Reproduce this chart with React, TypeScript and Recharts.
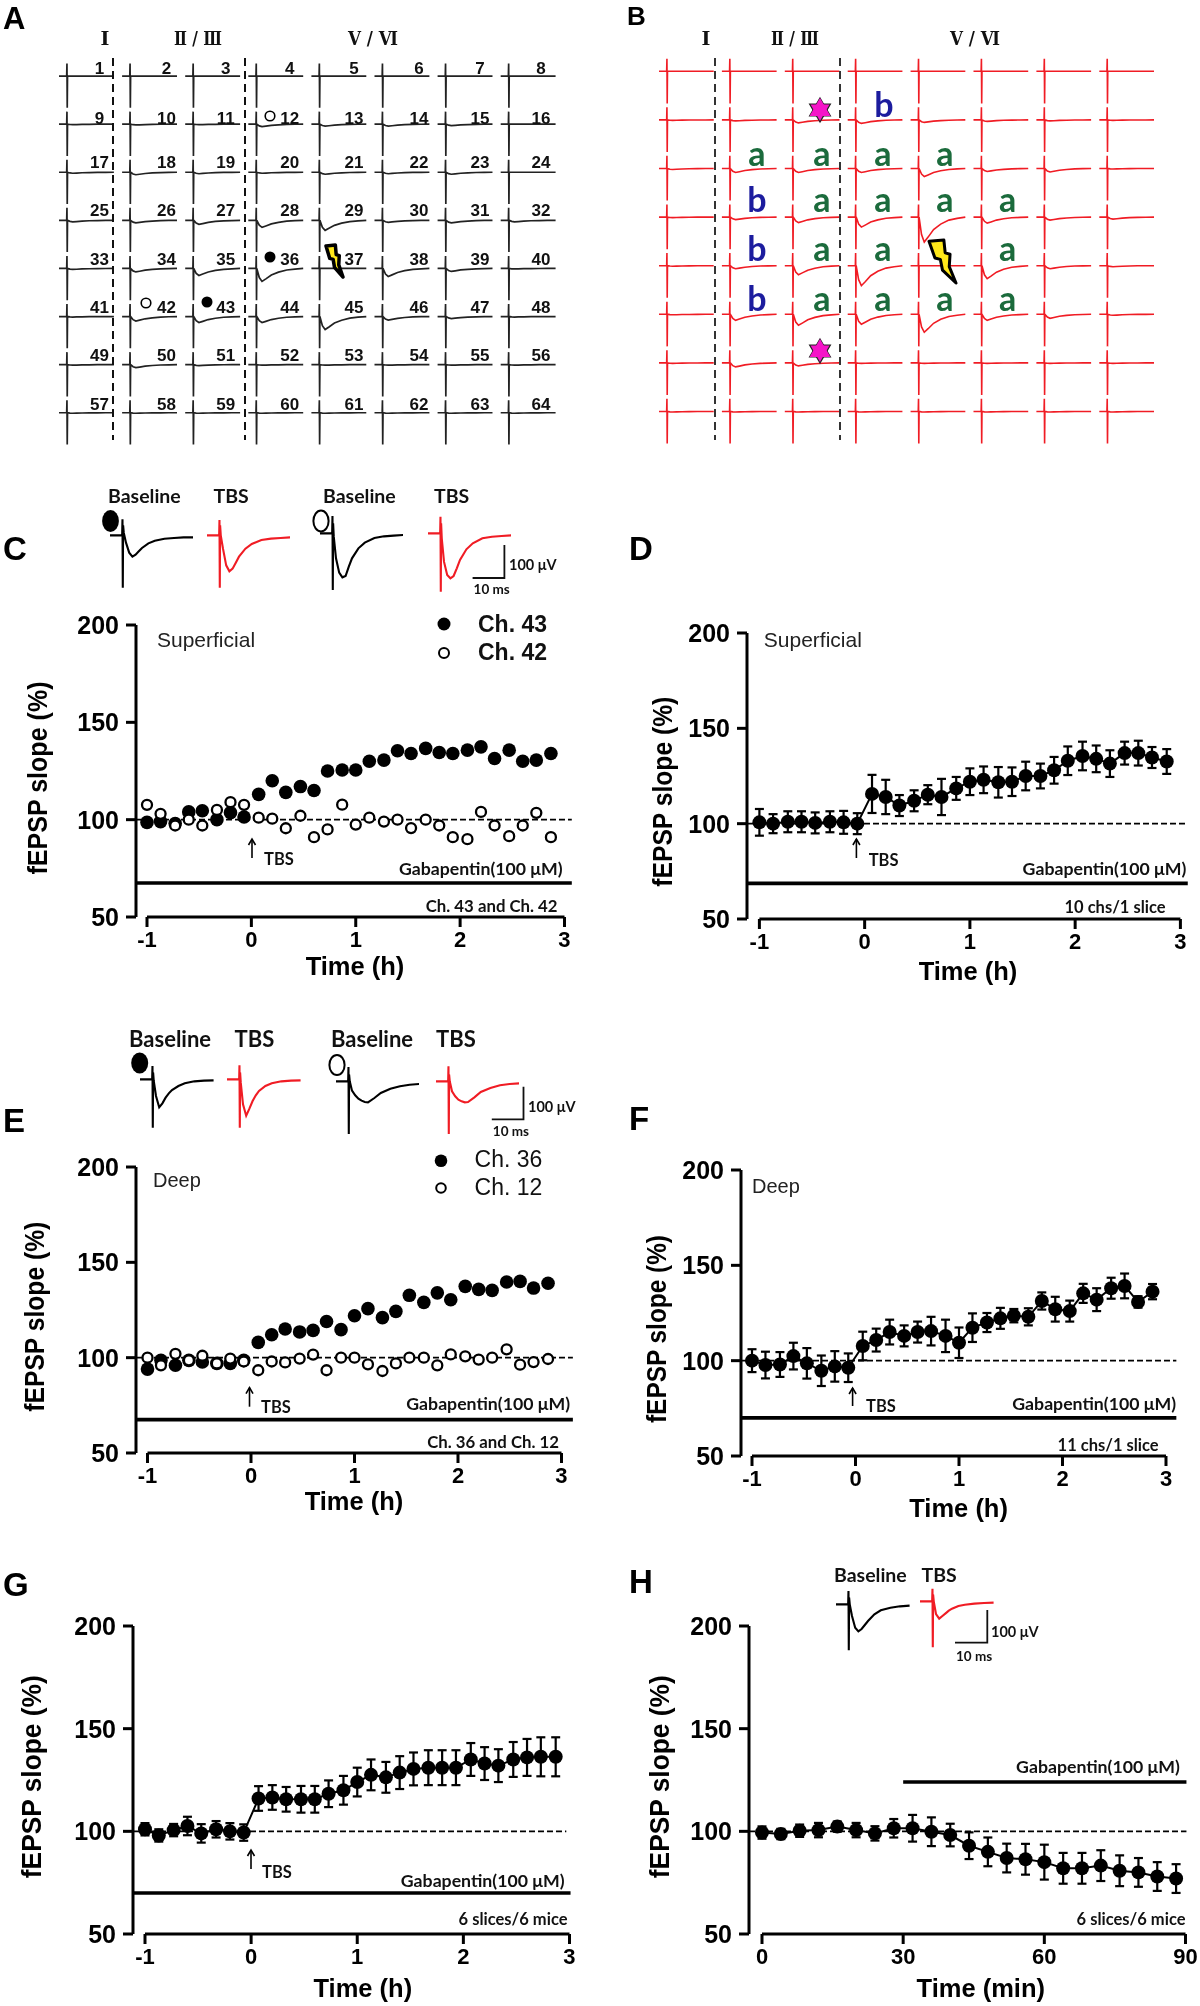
import { ComposedChart, LineChart, Line, XAxis, YAxis, ErrorBar, ReferenceLine } from 'recharts'

// Sampling times of the field recordings
const timeH = [-1, -0.87, -0.73, -0.6, -0.47, -0.33, -0.2, -0.07, 0.07, 0.2, 0.33, 0.47, 0.6, 0.73, 0.87, 1, 1.13, 1.27, 1.4, 1.53, 1.67, 1.8, 1.93, 2.07, 2.2, 2.33, 2.47, 2.6, 2.73, 2.87]
const timeMin = [0, 4, 8, 12, 16, 20, 24, 28, 32, 36, 40, 44, 48, 52, 56, 60, 64, 68, 72, 76, 80, 84, 88]

const ch43 = [98.6, 99, 98, 104, 104.6, 100, 103.6, 101.4, 113, 120, 114, 117, 115, 125, 125.5, 125.5, 130, 130.6, 135.4, 134, 136.6, 134.5, 134, 135.7, 137.4, 131.4, 135.7, 130, 130.6, 134]
const ch42 = [107.6, 103, 97, 100, 97, 105, 109, 107.6, 101, 100.5, 95.6, 102, 91, 95, 107.7, 97.5, 101, 99, 100, 95.7, 100, 97, 91, 90, 104, 97, 91.5, 97, 103.5, 91]
const ch36 = [94, 98.6, 96, 98.6, 97.7, 97, 97, 98.6, 108, 112, 115, 113.5, 114.3, 119, 114.7, 122, 125.7, 121, 124.3, 132.7, 129, 134, 130.4, 137.4, 135.8, 135.3, 139.7, 140, 136.5, 139]
const ch12 = [100, 96, 102, 98.6, 101, 97, 99.5, 98, 93.4, 98, 97.5, 99.5, 101.6, 93.4, 100, 100, 96.5, 93, 97, 100, 100, 96, 101.7, 100.7, 99, 100, 104.4, 96.3, 97.7, 99.3]

const dMean = [100.7, 100, 101, 101, 100.4, 101, 100.7, 100, 115.6, 114, 109.5, 112, 115.2, 114, 118.5, 122, 123, 121.7, 122, 125, 125, 128, 133, 135.5, 134, 131.5, 137, 137, 134.7, 132.6]
const dErr = [7, 5, 5.5, 5.5, 5.5, 5.5, 6, 5.5, 10, 9, 5.5, 5.5, 5, 9.5, 6, 7, 7, 8, 7.5, 7.5, 6.5, 7, 7.5, 7.5, 7, 7, 6, 6.5, 5.5, 6.5]
const fMean = [100, 97.7, 98, 102.4, 98.6, 94.7, 97, 96.3, 107.7, 110.8, 115, 113, 115, 115.5, 113, 109.4, 117.3, 120, 122.2, 123.6, 123, 131.3, 127, 126, 135.3, 132, 138, 139.2, 130.8, 136.2]
const fErr = [6, 7, 6.5, 7, 8, 8, 8, 7.5, 7.5, 6, 6.5, 5.5, 5.5, 7.5, 8.5, 8, 7.5, 5, 5.5, 3.5, 4.5, 4.5, 6.5, 5.5, 5, 6, 5.5, 6.5, 3, 4]
const gMean = [101, 98, 100.6, 102.6, 99, 101, 100, 99.4, 116, 116.5, 115.6, 115.6, 115.6, 118.3, 120, 124, 127.5, 126.3, 128.6, 130.4, 131, 131, 131, 135, 133, 132, 135, 136, 136.3, 136.3]
const gErr = [3, 3, 3, 4.5, 4.5, 4, 4, 4, 6, 6, 6, 6.5, 6.5, 6.5, 7, 7, 7.5, 7.5, 8, 8, 8.5, 8.5, 8.5, 8, 8, 8, 8.5, 9, 9.5, 9.5]
const hMean = [99.4, 98.7, 100.3, 100.6, 102.3, 100.6, 99, 101.5, 101.5, 99.8, 98.2, 93, 90, 87, 86.4, 85, 82, 82, 83.3, 80.8, 80, 78, 77]
const hErr = [3, 2.5, 3, 3.5, 2.5, 3.5, 3.5, 4.5, 6.5, 7, 5.5, 6.5, 7, 7, 7.5, 8.5, 7.5, 7.5, 7.5, 7.5, 7, 7, 7]

// Example waveforms, ms and uV
const waveMs = [0, 3.8, 3.9, 4, 4.1, 4.3, 5, 6, 7, 8, 9, 10, 12, 14, 17, 20, 23, 26]
const waveC1 = [0, 0, 48, -157, 30, 8, -22, -52, -64, -58, -48, -38, -24, -16, -10, -8, -6, -6]
const waveC2 = [0, 0, 46, -157, 30, 0, -40, -90, -108, -100, -82, -64, -40, -26, -14, -10, -8, -6]
const waveC3 = [0, 0, 52, -170, 30, -10, -75, -118, -132, -128, -100, -75, -45, -28, -14, -9, -7, -5]
const waveC4 = [0, 0, 50, -175, 30, -15, -85, -125, -135, -128, -105, -80, -48, -30, -15, -10, -8, -6]
const waveE1 = [0, 0, 40, -145, 20, -5, -50, -84, -72, -55, -42, -32, -20, -12, -6, -4, -3, -3]
const waveE2 = [0, 0, 42, -145, 20, -10, -75, -109, -88, -65, -48, -35, -20, -12, -6, -4, -3, -3]
const waveE3 = [0, 0, 43, -158, 20, 0, -28, -42, -52, -58, -62, -63, -50, -35, -22, -15, -10, -8]
const waveE4 = [0, 0, 45, -158, 20, 0, -30, -45, -55, -60, -63, -62, -48, -32, -20, -12, -8, -6]
const waveH1 = [0, 0, 40, -138, 20, 0, -35, -70, -81, -74, -62, -50, -30, -18, -10, -6, -4, -4]
const waveH2 = [0, 0, 38, -138, 20, 0, -38, -52, -44, -36, -28, -22, -14, -10, -7, -5, -4, -4]

// Multi-electrode sweep, fraction of the cell width
const sweepT = [0, 0.14, 0.145, 0.15, 0.155, 0.2, 0.25, 0.32, 0.42, 0.55, 0.7, 0.85, 1]
const sweepSpike = [0, 0, -0.26, 0.66, 0, 0, 0, 0, 0, 0, 0, 0, 0]
const sweepDip = [0, 0, 0, 0, 0, 0.7, 1, 0.8, 0.5, 0.28, 0.12, 0.05, 0]

// Dip size per channel 1-64
const ampsBaseline = [
  0, 0, 0, 0, 0, 0, 0, 0,
  0.5, 0.8, 0.5, 2.5, 2, 2, 1.5, 0,
  1, 2.5, 1.5, 1, 2, 1.5, 2, 0,
  1.5, 2.5, 4, 7, 10, 2, 2.5, 1.5,
  1, 3.5, 7, 13, 0, 8, 3, 0.5,
  0.5, 4.5, 6, 6, 13, 3.5, 2, 0.5,
  0.5, 3, 1, 0.5, 0.5, 0.5, 0.5, 0.5,
  0.5, 0.5, 0.5, 0.5, 0.5, 0.5, 0.5, 0.5,
]
const ampsTbs = [
  0, 0, 0, 0, 0, 0, 0, 0,
  0.5, 1, 3, 3.5, 2.5, 1.5, 1, 0.5,
  1, 4, 4, 4, 8, 3, 3.5, 0.5,
  0.5, 2.5, 5.5, 10, 25, 6, 3, 2,
  0.5, 3, 9, 20, 0, 13, 3, 1,
  0.5, 6, 11, 10, 18, 6, 4, 1,
  0.5, 4, 3, 0.5, 0.5, 0.5, 0.5, 0.5,
  0.5, 0.5, 0.5, 0.5, 0.5, 0.5, 0.5, 0.5,
]

const SANS = '"Liberation Sans", Arial, sans-serif'
const CAL = 'Lato, "Noto Sans", sans-serif'
const SERIF = '"DejaVu Serif", "Liberation Serif", serif'
const RED = '#f01c24'

const yTicks = [50, 100, 150, 200]
const hourTicks = [-1, 0, 1, 2, 3]
const minTicks = [0, 30, 60, 90]

function zip(t: number[], a: number[], b?: number[], e?: number[]) {
  return t.map((x, i) => ({ t: x, a: a[i], b: b ? b[i] : undefined, err: e ? e[i] : undefined }))
}

function FieldChart({ axisX, y200, y50, xLeft, xRight, ticks, rows, barY, barFrom, barTo, dashTo, dots }: any) {
  const PAD = 80
  const TOP = 24
  const first = ticks[0]
  const last = ticks[ticks.length - 1]
  const perUnit = (xRight - xLeft) / (last - first)
  const xMin = first - (xLeft - axisX) / perUnit
  const xMax = Math.max(barTo, dashTo)
  const plotW = (xMax - xMin) * perUnit
  const from = barFrom === undefined ? xMin : barFrom
  return (
    <div style={{ position: 'absolute', left: axisX - PAD, top: y200 - TOP }}>
      <ComposedChart width={PAD + plotW + 30} height={y50 - y200 + TOP + 50} margin={{ top: TOP, right: 30, bottom: 0, left: 0 }} data={rows}>
        <XAxis type="number" dataKey="t" domain={[xMin, xMax]} ticks={ticks} interval={0} allowDataOverflow axisLine={false} tickLine={{ stroke: '#000', strokeWidth: 3 }} tickSize={10} tickMargin={4} height={50} tick={{ fill: '#000', fontFamily: SANS, fontWeight: 700, fontSize: 22 }} />
        <YAxis type="number" domain={[50, 200]} ticks={yTicks} interval={0} width={PAD} axisLine={{ stroke: '#000', strokeWidth: 3 }} tickLine={{ stroke: '#000', strokeWidth: 3 }} tickSize={10} tickMargin={7} tick={{ fill: '#000', fontFamily: SANS, fontWeight: 700, fontSize: 25 }} />
        <ReferenceLine segment={[{ x: first, y: 50 }, { x: last, y: 50 }]} stroke="#000" strokeWidth={3} />
        <ReferenceLine segment={[{ x: xMin, y: 100 }, { x: dashTo, y: 100 }]} stroke="#000" strokeWidth={1.9} strokeDasharray="6 3" />
        <ReferenceLine segment={[{ x: from, y: barY }, { x: barTo, y: barY }]} stroke="#000" strokeWidth={3.6} />
        {dots === 'pair' ? (
          <Line dataKey="a" stroke="none" isAnimationActive={false} dot={{ r: 6.8, fill: '#000', stroke: 'none' }} legendType="none" />
        ) : (
          <Line dataKey="a" stroke="#000" strokeWidth={2} isAnimationActive={false} dot={{ r: 7, fill: '#000', stroke: 'none' }} legendType="none">
            <ErrorBar dataKey="err" width={4.5} stroke="#000" strokeWidth={2.2} isAnimationActive={false} />
          </Line>
        )}
        {dots === 'pair' && (
          <Line dataKey="b" stroke="none" isAnimationActive={false} dot={{ r: 5, fill: '#fff', stroke: '#000', strokeWidth: 2.3 }} legendType="none" />
        )}
      </ComposedChart>
    </div>
  )
}

function Wave({ left, baseY, values, color = '#000', endMs = 26 }: any) {
  const rows = waveMs.map((t, i) => ({ t, v: values[i] })).filter((d) => d.t <= endMs)
  return (
    <div style={{ position: 'absolute', left, top: baseY - 100 / 3 }}>
      <LineChart width={endMs * 3.2} height={100} data={rows} margin={{ top: 0, right: 0, bottom: 0, left: 0 }}>
        <XAxis hide type="number" dataKey="t" domain={[0, endMs]} />
        <YAxis hide type="number" domain={[-200, 100]} />
        <Line dataKey="v" stroke={color} strokeWidth={2.1} dot={false} isAnimationActive={false} />
      </LineChart>
    </div>
  )
}

function ElectrodeGrid({ left, top, colW, rowH, amps, color, strokeWidth }: any) {
  return (
    <div style={{ position: 'absolute', left, top }}>
      <LineChart width={colW * 8} height={rowH * 8.5} margin={{ top: 0, right: 0, bottom: 0, left: 0 }}>
        <XAxis hide type="number" dataKey="t" domain={[0, 8]} />
        <YAxis hide type="number" domain={[-0.5, 8]} reversed />
        {amps.map((amp: number, ch: number) => {
          const col = ch % 8
          const row = Math.floor(ch / 8)
          const rows = sweepT.map((t, k) => ({ t: col + t * 0.87, v: row + sweepSpike[k] + (sweepDip[k] * amp) / rowH }))
          return <Line key={ch} data={rows} dataKey="v" stroke={color} strokeWidth={strokeWidth} dot={false} isAnimationActive={false} />
        })}
      </LineChart>
    </div>
  )
}

function T({ x, y, s, size = 14, bold = true, font = CAL, anchor = 'start', fill = '#111', rotate, len }: any) {
  return (
    <text x={x} y={y} fontSize={size} fontWeight={bold ? 700 : 400} fontFamily={font} textAnchor={anchor} fill={fill} textLength={len} lengthAdjust={len ? 'spacingAndGlyphs' : undefined} transform={rotate ? `rotate(${rotate} ${x} ${y})` : undefined}>
      {s}
    </text>
  )
}

function Arrow({ x, y1, y2 }: any) {
  return (
    <g stroke="#000" fill="none" strokeWidth={1.6}>
      <line x1={x} y1={y1} x2={x} y2={y2} />
      <path d={`M${x - 3.5} ${y1 + 6} L${x} ${y1} L${x + 3.5} ${y1 + 6}`} />
    </g>
  )
}

function ScaleBar({ x, x0, y1, y2, tx, ty1, ty2 }: any) {
  return (
    <g>
      <path d={`M${x} ${y1} L${x} ${y2} L${x0} ${y2}`} stroke="#111" strokeWidth={1.8} fill="none" />
      <T x={tx} y={ty1} s="100 μV" size={14.5} />
      <T x={x0 + 1} y={ty2} s="10 ms" size={13.5} />
    </g>
  )
}

function Bolt({ x, y, w, h, sw }: any) {
  const pts = [[0, 0.03], [0.55, 0], [0.6, 0.3], [0.78, 0.33], [0.75, 0.62], [1, 1], [0.5, 0.7], [0.42, 0.45], [0.22, 0.42]]
  return <polygon points={pts.map((p) => `${x + p[0] * w},${y + p[1] * h}`).join(' ')} fill="#ffe81a" stroke="#000" strokeWidth={sw} strokeLinejoin="round" />
}

function Hexagram({ cx, cy, r }: any) {
  const tri = (a: number) => [0, 120, 240].map((d) => `${cx + r * Math.sin(((d + a) * Math.PI) / 180)},${cy - r * Math.cos(((d + a) * Math.PI) / 180)}`).join(' ')
  return (
    <g fill="#f514c8" stroke="#222" strokeWidth={1.2}>
      <polygon points={tri(0)} />
      <polygon points={tri(180)} />
      <polygon points={tri(0)} stroke="none" />
    </g>
  )
}

const chNumCols = [99.5, 166.5, 225.8, 289.7, 354, 419, 480, 541]
const chNumRows = [74, 124, 168, 216, 265, 313, 361, 410]
const lettersA = [[884, 117, 'b'], [757, 166, 'a'], [822, 166, 'a'], [883, 166, 'a'], [945, 166, 'a'], [757, 212, 'b'], [822, 212, 'a'], [883, 212, 'a'], [945, 212, 'a'], [1007.6, 212, 'a'], [757, 261, 'b'], [822, 261, 'a'], [883, 261, 'a'], [1007.6, 261, 'a'], [757, 311, 'b'], [822, 311, 'a'], [883, 311, 'a'], [945, 311, 'a'], [1007.6, 311, 'a']]

function YTitle({ x, y, len }: any) {
  return <T x={x} y={y} s="fEPSP slope (%)" size={27} font={SANS} anchor="middle" rotate={-90} fill="#000" len={len} />
}

function XTitle({ x, y, s = 'Time (h)' }: any) {
  return <T x={x} y={y} s={s} size={25.5} font={SANS} anchor="middle" fill="#000" />
}

function Overlay() {
  return (
    <svg width={1200} height={2006} style={{ position: 'absolute', left: 0, top: 0 }}>
      {/* panel letters */}
      {[[3, 29, 'A', 31], [627, 25, 'B', 26], [3, 560, 'C', 33], [629, 560, 'D', 33], [3, 1132, 'E', 33], [629, 1130, 'F', 33], [3, 1596, 'G', 33], [629, 1593, 'H', 33]].map((p: any) => (
        <T key={p[2]} x={p[0]} y={p[1]} s={p[2]} size={p[3]} font={SANS} fill="#000" />
      ))}

      {/* A */}
      <T x={105} y={45} s="Ⅰ" size={19} font={SERIF} anchor="middle" />
      <T x={198} y={45} s="Ⅱ / Ⅲ" size={19} font={SERIF} anchor="middle" len={48} />
      <T x={373} y={45} s="Ⅴ / Ⅵ" size={19} font={SERIF} anchor="middle" len={50} />
      {chNumRows.map((y, r) => chNumCols.map((x, c) => <T key={`${r}-${c}`} x={x} y={y} s={r * 8 + c + 1} size={17} font={SANS} anchor="middle" />))}
      <line x1={113} y1={58} x2={113} y2={440} stroke="#111" strokeWidth={2} strokeDasharray="8 5" />
      <line x1={245} y1={58} x2={245} y2={440} stroke="#111" strokeWidth={2} strokeDasharray="8 5" />
      <circle cx={270} cy={116} r={4.8} fill="#fff" stroke="#000" strokeWidth={1.6} />
      <circle cx={270} cy={257} r={5.5} fill="#000" />
      <circle cx={146} cy={303} r={4.8} fill="#fff" stroke="#000" strokeWidth={1.6} />
      <circle cx={207} cy={302} r={5.5} fill="#000" />
      <Bolt x={326} y={245} w={17} h={32} sw={3.5} />

      {/* B */}
      <T x={706} y={45} s="Ⅰ" size={19} font={SERIF} anchor="middle" />
      <T x={795} y={45} s="Ⅱ / Ⅲ" size={19} font={SERIF} anchor="middle" len={48} />
      <T x={975} y={45} s="Ⅴ / Ⅵ" size={19} font={SERIF} anchor="middle" len={50} />
      <line x1={715} y1={58} x2={715} y2={440} stroke="#333" strokeWidth={2} strokeDasharray="8 5" />
      <line x1={840} y1={58} x2={840} y2={440} stroke="#333" strokeWidth={2} strokeDasharray="8 5" />
      {lettersA.map((p: any, i) => (
        <T key={i} x={p[0]} y={p[1]} s={p[2]} size={34} anchor="middle" fill={p[2] === 'a' ? '#1b6b3c' : '#1c1c9e'} />
      ))}
      <Hexagram cx={820} cy={110} r={12} />
      <Hexagram cx={820} cy={351} r={12} />
      <Bolt x={929} y={240} w={27} h={43} sw={3} />

      {/* C */}
      <T x={108} y={503} s="Baseline" size={19.5} />
      <T x={213.5} y={503} s="TBS" size={19.5} />
      <T x={323} y={503} s="Baseline" size={19.5} />
      <T x={434} y={503} s="TBS" size={19.5} />
      <ellipse cx={110.5} cy={521} rx={8.4} ry={11} fill="#000" />
      <ellipse cx={321} cy={521} rx={7.6} ry={10.5} fill="none" stroke="#000" strokeWidth={2} />
      <ScaleBar x={504.4} x0={472.6} y1={545} y2={578} tx={509} ty1={570} ty2={594} />
      <T x={157} y={647} s="Superficial" size={21} bold={false} font={SANS} fill="#222" />
      <circle cx={444} cy={624} r={6.5} fill="#000" />
      <circle cx={444} cy={653} r={5} fill="#fff" stroke="#000" strokeWidth={2} />
      <T x={478} y={632} s="Ch. 43" size={23} font={SANS} />
      <T x={478} y={660} s="Ch. 42" size={23} font={SANS} />
      <T x={562.6} y={875} s="Gabapentin(100 μM)" size={17.7} anchor="end" />
      <T x={557.6} y={912} s="Ch. 43 and Ch. 42" size={16.8} anchor="end" />
      <T x={264} y={865} s="TBS" size={16.5} />
      <Arrow x={252} y1={839} y2={858} />
      <YTitle x={47} y={778} len={193} />
      <XTitle x={355} y={975} />

      {/* D */}
      <T x={763.8} y={646.7} s="Superficial" size={21} bold={false} font={SANS} fill="#222" />
      <T x={1186.3} y={875} s="Gabapentin(100 μM)" size={17.7} anchor="end" />
      <T x={1165.6} y={912.7} s="10 chs/1 slice" size={16.5} anchor="end" />
      <T x={868.7} y={865.7} s="TBS" size={16.5} />
      <Arrow x={856.4} y1={839} y2={858} />
      <YTitle x={671.6} y={791.7} len={190} />
      <XTitle x={968} y={980} />

      {/* E */}
      <T x={129} y={1047} s="Baseline" size={22} />
      <T x={234.6} y={1047} s="TBS" size={22} />
      <T x={331} y={1047} s="Baseline" size={22} />
      <T x={436} y={1047} s="TBS" size={22} />
      <ellipse cx={139.7} cy={1063} rx={8.5} ry={10.5} fill="#000" />
      <ellipse cx={337} cy={1065} rx={7.6} ry={10} fill="none" stroke="#000" strokeWidth={2} />
      <ScaleBar x={523.5} x0={491.8} y1={1086.7} y2={1119.3} tx={528} ty1={1112} ty2={1136} />
      <T x={153} y={1187} s="Deep" size={20} bold={false} font={SANS} fill="#222" />
      <circle cx={441} cy={1160.7} r={6.3} fill="#000" />
      <circle cx={441} cy={1188} r={4.8} fill="#fff" stroke="#000" strokeWidth={2} />
      <T x={474.6} y={1167} s="Ch. 36" size={23} bold={false} font={SANS} />
      <T x={474.6} y={1195} s="Ch. 12" size={23} bold={false} font={SANS} />
      <T x={570} y={1410} s="Gabapentin(100 μM)" size={17.7} anchor="end" />
      <T x={559} y={1448} s="Ch. 36 and Ch. 12" size={16.8} anchor="end" />
      <T x={261} y={1413} s="TBS" size={16.5} />
      <Arrow x={249.5} y1={1387.7} y2={1406.7} />
      <YTitle x={44} y={1316.7} len={190} />
      <XTitle x={354} y={1510} />

      {/* F */}
      <T x={752} y={1193} s="Deep" size={20} bold={false} font={SANS} fill="#222" />
      <T x={1176} y={1410} s="Gabapentin(100 μM)" size={17.7} anchor="end" />
      <T x={1158.7} y={1450.7} s="11 chs/1 slice" size={16.5} anchor="end" />
      <T x={866} y={1411.7} s="TBS" size={16.5} />
      <Arrow x={852.6} y1={1388} y2={1406} />
      <YTitle x={665.8} y={1329} len={188} />
      <XTitle x={958.6} y={1516.7} />

      {/* G */}
      <T x={564.5} y={1886.7} s="Gabapentin(100 μM)" size={17.7} anchor="end" />
      <T x={567.5} y={1925} s="6 slices/6 mice" size={16.5} anchor="end" />
      <T x={262} y={1878} s="TBS" size={16.5} />
      <Arrow x={251} y1={1850} y2={1869} />
      <YTitle x={41} y={1776.7} len={203} />
      <XTitle x={362.8} y={1996.7} />

      {/* H */}
      <T x={834} y={1581.7} s="Baseline" size={19.5} />
      <T x={921.5} y={1581.7} s="TBS" size={19.5} />
      <ScaleBar x={987.3} x0={955} y1={1610} y2={1642.7} tx={991} ty1={1636.7} ty2={1661} />
      <T x={1179.8} y={1772.7} s="Gabapentin(100 μM)" size={17.7} anchor="end" />
      <T x={1185.5} y={1925} s="6 slices/6 mice" size={16.5} anchor="end" />
      <YTitle x={669} y={1776.7} len={203} />
      <XTitle x={980.8} y={1996.7} s="Time (min)" />
    </svg>
  )
}

export default function App() {
  return (
    <div style={{ position: 'absolute', left: 0, top: 0, width: 1200, height: 2006, background: '#fff', overflow: 'hidden', filter: 'blur(0.45px)' }}>
      <ElectrodeGrid left={59} top={52} colW={63.1} rowH={48.1} amps={ampsBaseline} color="#222" strokeWidth={1.7} />
      <ElectrodeGrid left={659} top={46.7} colW={62.9} rowH={48.6} amps={ampsTbs} color={RED} strokeWidth={1.6} />

      <Wave left={109.7} baseY={535} values={waveC1} />
      <Wave left={207} baseY={535} values={waveC2} color={RED} />
      <Wave left={320} baseY={533} values={waveC3} />
      <Wave left={428} baseY={533} values={waveC4} color={RED} />
      <FieldChart axisX={136} y200={625} y50={917} xLeft={147} xRight={564.5} ticks={hourTicks} rows={zip(timeH, ch43, ch42)} barY={67.5} barTo={3.07} dashTo={3.07} dots="pair" />
      <FieldChart axisX={746.6} y200={633} y50={919} xLeft={759} xRight={1180} ticks={hourTicks} rows={zip(timeH, dMean, undefined, dErr)} barY={68.7} barTo={3.07} dashTo={3.07} />

      <Wave left={140.2} baseY={1079} values={waveE1} endMs={23} />
      <Wave left={227} baseY={1079} values={waveE2} color={RED} endMs={23} />
      <Wave left={336} baseY={1081} values={waveE3} />
      <Wave left={435.7} baseY={1081} values={waveE4} color={RED} />
      <FieldChart axisX={135.5} y200={1167} y50={1453} xLeft={147} xRight={561} ticks={hourTicks} rows={zip(timeH, ch36, ch12)} barY={67.5} barTo={3.11} dashTo={3.11} dots="pair" />
      <FieldChart axisX={741} y200={1170} y50={1456} xLeft={752} xRight={1166} ticks={hourTicks} rows={zip(timeH, fMean, undefined, fErr)} barY={70} barTo={3.1} dashTo={3.1} />

      <FieldChart axisX={133} y200={1626} y50={1934} xLeft={145} xRight={569.5} ticks={hourTicks} rows={zip(timeH, gMean, undefined, gErr)} barY={70} barTo={3.01} dashTo={2.97} />
      <Wave left={836} baseY={1604} values={waveH1} endMs={23} />
      <Wave left={920} baseY={1601.7} values={waveH2} color={RED} endMs={23} />
      <FieldChart axisX={749} y200={1626} y50={1934} xLeft={762} xRight={1185.5} ticks={minTicks} rows={zip(timeMin, hMean, undefined, hErr)} barY={124} barFrom={30} barTo={90.2} dashTo={90.2} />

      <Overlay />
    </div>
  )
}
